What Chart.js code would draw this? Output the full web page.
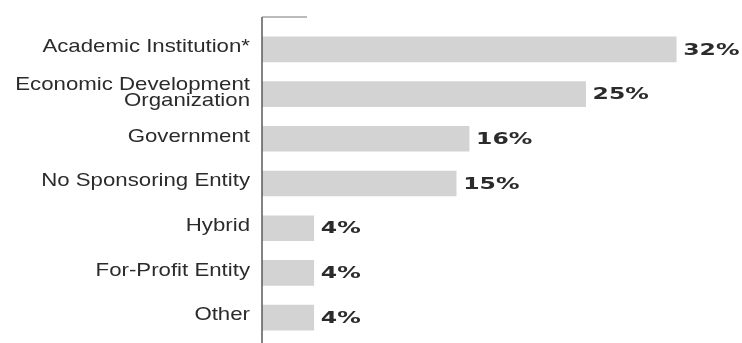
<!DOCTYPE html>
<html>
<head>
<meta charset="utf-8">
<script src="https://cdn.jsdelivr.net/npm/chart.js@4"></script>
<style>
  html, body { margin: 0; padding: 0; background: #fff; }
  #wrap { width: 742px; height: 343px; position: relative; }
</style>
</head>
<body>
<div id="wrap"><canvas id="sponsorChart"></canvas></div>
<script>
// --- Data ---
const CATEGORIES = [
  'Academic Institution*',
  ['Economic Development', 'Organization'],
  'Government',
  'No Sponsoring Entity',
  'Hybrid',
  'For-Profit Entity',
  'Other'
];
const SHARES = [32, 25, 16, 15, 4, 4, 4];
const X_MAX = 36;

const BAR_COLOR = '#d3d3d3';
const TEXT_COLOR = '#2b2b2b';
const AXIS_COLOR = '#5a5a5a';

// category names and percentages are drawn by hand so the glyphs can be widened
const labelPlugin = {
  id: 'sideLabels',
  afterDatasetsDraw(chart) {
    const { ctx, chartArea, scales } = chart;
    const x = scales.x, y = scales.y;
    const left = x.getPixelForValue(0);

    // vertical axis plus the short tick at its top
    ctx.save();
    ctx.strokeStyle = AXIS_COLOR;
    ctx.lineWidth = 1.5;
    ctx.beginPath();
    ctx.moveTo(left, chartArea.top - 10);
    ctx.lineTo(left, chartArea.bottom + 4);
    ctx.stroke();
    ctx.strokeStyle = '#777';
    ctx.lineWidth = 1;
    ctx.beginPath();
    ctx.moveTo(left, chartArea.top - 10);
    ctx.lineTo(left + 45, chartArea.top - 10);
    ctx.stroke();

    // category names, right aligned
    ctx.fillStyle = TEXT_COLOR;
    ctx.font = '19px "Liberation Sans", Arial, sans-serif';
    ctx.textAlign = 'right';
    ctx.textBaseline = 'middle';
    const stretch = 1.17;
    CATEGORIES.forEach((cat, i) => {
      const lines = Array.isArray(cat) ? cat : [cat];
      const cy = y.getPixelForValue(i) - (lines.length > 1 ? 1 : 2.5);
      const lh = 16;
      lines.forEach((line, j) => {
        const ly = cy + (j - (lines.length - 1) / 2) * lh;
        ctx.save();
        ctx.translate(left - 12, ly);
        ctx.scale(stretch, 1);
        ctx.fillText(line, 0, 0);
        ctx.restore();
      });
    });

    // percentage labels after each bar
    ctx.font = 'bold 16px "DejaVu Sans", sans-serif';
    ctx.textAlign = 'left';
    SHARES.forEach((v, i) => {
      const px = x.getPixelForValue(v) + 7;
      const py = y.getPixelForValue(i) + 1;
      ctx.save();
      ctx.translate(px, py);
      ctx.scale(1.47, 1);
      ctx.fillText(v + '%', 0, 0);
      ctx.restore();
    });
    ctx.restore();
  }
};

new Chart(document.getElementById('sponsorChart'), {
  type: 'bar',
  data: {
    labels: CATEGORIES,
    datasets: [{
      data: SHARES,
      backgroundColor: BAR_COLOR,
      borderWidth: 0,
      barThickness: 25
    }]
  },
  options: {
    indexAxis: 'y',
    responsive: true,
    maintainAspectRatio: false,
    animation: false,
    layout: { padding: { left: 262, right: 14, top: 27, bottom: 3 } },
    plugins: {
      legend: { display: false },
      tooltip: { enabled: false }
    },
    scales: {
      x: { display: false, min: 0, max: X_MAX },
      y: { display: false, offset: true }
    }
  },
  plugins: [labelPlugin]
});
</script>
</body>
</html>
